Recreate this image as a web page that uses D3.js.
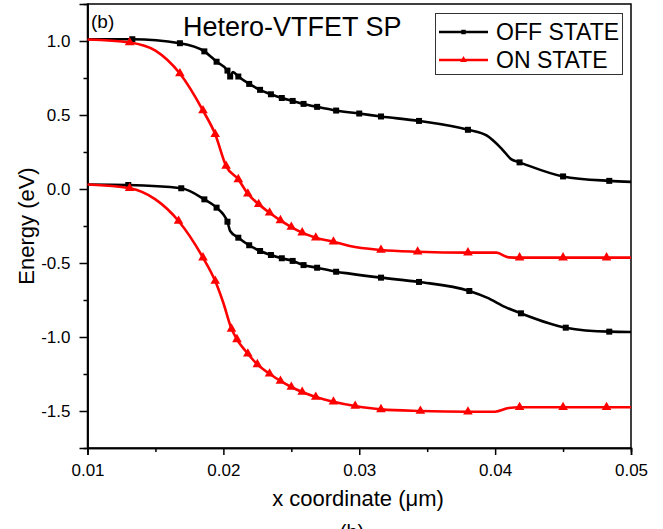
<!DOCTYPE html>
<html>
<head>
<meta charset="utf-8">
<script src="https://cdn.jsdelivr.net/npm/d3@7"></script>
<style>
  body { margin: 0; background: #fff; }
  text { font-family: "Liberation Sans", Arial, sans-serif; }
</style>
</head>
<body>
<div id="chart"></div>
<script>
// data: [x (um), energy (eV), has marker]
var offUpper = [
  [0.0100, 1.012, 0], [0.0133, 1.012, 1], [0.0168, 0.985, 1], [0.0186, 0.93, 1],
  [0.0195, 0.86, 1], [0.0203, 0.80, 1], [0.0205, 0.76, 1], [0.0207, 0.79, 0],
  [0.0211, 0.76, 1], [0.0219, 0.71, 1], [0.0227, 0.67, 1], [0.0235, 0.64, 1],
  [0.0243, 0.615, 1], [0.0251, 0.595, 1], [0.0259, 0.575, 1], [0.0269, 0.555, 1],
  [0.0283, 0.53, 1], [0.0300, 0.51, 1], [0.0316, 0.49, 1], [0.0344, 0.46, 1],
  [0.0380, 0.40, 1], [0.0394, 0.36, 0], [0.0405, 0.27, 0], [0.0412, 0.20, 0],
  [0.0418, 0.18, 1], [0.0450, 0.085, 1], [0.0484, 0.055, 1], [0.0500, 0.048, 0]
];
var offLower = [
  [0.0100, 0.030, 0], [0.0130, 0.027, 1], [0.0169, 0.005, 1], [0.0186, -0.070, 1],
  [0.0195, -0.126, 1], [0.0203, -0.221, 1], [0.0205, -0.284, 0], [0.0211, -0.329, 1],
  [0.0219, -0.380, 1], [0.0227, -0.419, 1], [0.0235, -0.446, 1], [0.0243, -0.468, 1],
  [0.0251, -0.486, 1], [0.0259, -0.514, 1], [0.0269, -0.532, 1], [0.0283, -0.559, 1],
  [0.0293, -0.572, 0], [0.0316, -0.599, 1], [0.0344, -0.628, 1], [0.0381, -0.689, 1],
  [0.0394, -0.734, 0], [0.0408, -0.800, 0], [0.0419, -0.840, 1], [0.0452, -0.937, 1],
  [0.0484, -0.964, 1], [0.0500, -0.966, 0]
];
var onUpper = [
  [0.0100, 1.010, 0], [0.0131, 0.990, 1], [0.0150, 0.935, 0], [0.0168, 0.780, 1],
  [0.0185, 0.530, 1], [0.0194, 0.370, 1], [0.0202, 0.155, 1], [0.0211, 0.065, 1],
  [0.0218, -0.032, 1], [0.0226, -0.103, 1], [0.0234, -0.160, 1], [0.0242, -0.212, 1],
  [0.0250, -0.257, 1], [0.0258, -0.295, 1], [0.0268, -0.329, 1], [0.0281, -0.356, 1],
  [0.0293, -0.385, 0], [0.0316, -0.412, 1], [0.0343, -0.424, 1], [0.0380, -0.430, 1],
  [0.0401, -0.430, 0], [0.0410, -0.462, 0], [0.0418, -0.464, 1], [0.0450, -0.464, 1],
  [0.0482, -0.464, 1], [0.0500, -0.464, 0]
];
var onLower = [
  [0.0100, 0.030, 0], [0.0131, 0.005, 1], [0.0150, -0.070, 0], [0.0167, -0.216, 1],
  [0.0185, -0.464, 1], [0.0194, -0.622, 1], [0.0200, -0.770, 0], [0.0206, -0.945, 1],
  [0.0210, -1.016, 1], [0.0218, -1.113, 1], [0.0225, -1.185, 1], [0.0234, -1.248, 1],
  [0.0242, -1.297, 1], [0.0250, -1.338, 1], [0.0258, -1.372, 1], [0.0268, -1.405, 1],
  [0.0281, -1.437, 1], [0.0297, -1.466, 1], [0.0316, -1.489, 1], [0.0345, -1.500, 1],
  [0.0380, -1.505, 1], [0.0400, -1.505, 0], [0.0410, -1.480, 0], [0.0418, -1.475, 1],
  [0.0450, -1.475, 1], [0.0482, -1.475, 1], [0.0500, -1.475, 0]
];
var xTicks = [0.01, 0.02, 0.03, 0.04, 0.05];
var xMinorTicks = [0.015, 0.025, 0.035, 0.045];
var yTicks = [-1.5, -1.0, -0.5, 0.0, 0.5, 1.0];
var yMinorTicks = [-1.25, -0.75, -0.25, 0.25, 0.75];
var seriesNames = ['OFF STATE', 'ON STATE'];

var width = 663, height = 529,
    margins = {left: 87.5, right: 32, top: 4, bottom: 81};

var svg = d3.select('#chart').append('svg')
    .attr('width', width).attr('height', height);

var x = d3.scaleLinear().domain([0.01, 0.05]).range([margins.left, width - margins.right]);
var y = d3.scaleLinear().domain([-1.75, 1.25]).range([height - margins.bottom, margins.top]);

// frame
svg.append('rect')
    .attr('x', x(0.01)).attr('y', y(1.25))
    .attr('width', x(0.05) - x(0.01)).attr('height', y(-1.75) - y(1.25))
    .attr('fill', 'none').attr('stroke', '#000').attr('stroke-width', 1.5);

// axes (plain hyphen for negatives, like the original)
var xAxis = svg.append('g').attr('transform', 'translate(0,' + y(-1.75) + ')')
    .call(d3.axisBottom(x).tickValues(xTicks).tickFormat(function (d) { return d.toFixed(2); })
        .tickSizeOuter(0).tickSize(7).tickPadding(9));
var xMinor = svg.append('g').attr('transform', 'translate(0,' + y(-1.75) + ')')
    .call(d3.axisBottom(x).tickValues(xMinorTicks).tickFormat('').tickSizeOuter(0).tickSize(4));
var yAxis = svg.append('g').attr('transform', 'translate(' + x(0.01) + ',0)')
    .call(d3.axisLeft(y).tickValues(yTicks).tickFormat(function (d) { return d.toFixed(1); })
        .tickSizeOuter(0).tickSize(8).tickPadding(9));
var yMinor = svg.append('g').attr('transform', 'translate(' + x(0.01) + ',0)')
    .call(d3.axisLeft(y).tickValues(yMinorTicks).tickFormat('').tickSizeOuter(0).tickSize(4));

[xAxis, xMinor, yAxis, yMinor].forEach(function (g) {
    g.select('.domain').attr('stroke-width', 1.5);
    g.selectAll('.tick line').attr('stroke-width', 1.5);
    g.selectAll('.tick text').attr('font-size', 17).attr('fill', '#000')
        .style('font-family', '"Liberation Sans", Arial, sans-serif');
});

svg.append('text').attr('x', 358).attr('y', 506).attr('text-anchor', 'middle')
    .attr('font-size', 22).text('x coordinate (\u03bcm)');
svg.append('text').attr('transform', 'translate(34,' + 226 + ') rotate(-90)')
    .attr('text-anchor', 'middle').attr('font-size', 22).text('Energy (eV)');
svg.append('text').attr('x', 352).attr('y', 539).attr('text-anchor', 'middle')
    .attr('font-size', 20).text('(b)');

svg.append('text').attr('x', 91).attr('y', 28).attr('font-size', 19).text('(b)');
svg.append('text').attr('x', 183).attr('y', 36).attr('font-size', 27).text('Hetero-VTFET SP');

var line = d3.line()
    .x(function (d) { return x(d[0]); })
    .y(function (d) { return y(d[1]); })
    .curve(d3.curveMonotoneX);

var square = d3.symbol().type(d3.symbolSquare).size(36);
var tri = d3.symbol().type(d3.symbolTriangle).size(40);

function drawSeries(data, color, sym) {
    svg.append('path').datum(data)
        .attr('d', line).attr('fill', 'none')
        .attr('stroke', color).attr('stroke-width', 2.6);
    svg.selectAll(null).data(data.filter(function (d) { return d[2]; })).enter()
        .append('path')
        .attr('d', sym)
        .attr('transform', function (d) { return 'translate(' + x(d[0]) + ',' + y(d[1]) + ')'; })
        .attr('fill', color);
}

drawSeries(offUpper, '#000', square);
drawSeries(offLower, '#000', square);
drawSeries(onUpper, '#f00', tri);
drawSeries(onLower, '#f00', tri);

// legend
var legend = svg.append('g');
legend.append('rect').attr('x', 435.5).attr('y', 13.5).attr('width', 187).attr('height', 61)
    .attr('fill', '#fff').attr('stroke', '#333').attr('stroke-width', 1);
var legendColors = ['#000', '#f00'], legendSyms = [square, tri];
seriesNames.forEach(function (name, i) {
    var ly = 32 + i * 28;
    legend.append('line').attr('x1', 439).attr('x2', 488).attr('y1', ly).attr('y2', ly)
        .attr('stroke', legendColors[i]).attr('stroke-width', 2.6);
    legend.append('path').attr('d', legendSyms[i].size(20)())
        .attr('transform', 'translate(463.5,' + ly + ')').attr('fill', legendColors[i]);
    legend.append('text').attr('x', 496).attr('y', ly + 8).attr('font-size', 23).text(name);
});
</script>
</body>
</html>
